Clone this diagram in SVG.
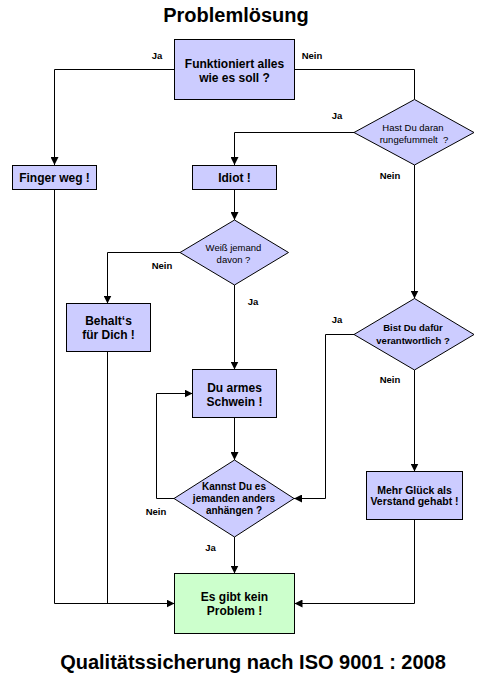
<svg xmlns="http://www.w3.org/2000/svg" width="498" height="677" viewBox="0 0 498 677">
<defs>
<marker id="ah" viewBox="0 0 8 8" refX="8" refY="4" markerWidth="8" markerHeight="8" markerUnits="userSpaceOnUse" orient="auto">
<path d="M0,0 L8,4 L0,8 z" fill="#000"/>
</marker>
</defs>
<style>
.n{fill:#CCCCFF;stroke:#000;stroke-width:1}
.g{fill:#CCFFCC;stroke:#000;stroke-width:1}
.t{font-family:"Liberation Sans",Arial,sans-serif;font-weight:bold;font-size:12px;text-anchor:middle;fill:#000}
.d{font-family:"Liberation Sans",Arial,sans-serif;font-size:9.5px;text-anchor:middle;fill:#000}
.db{font-family:"Liberation Sans",Arial,sans-serif;font-weight:bold;font-size:10px;text-anchor:middle;fill:#000}
.l{font-family:"Liberation Sans",Arial,sans-serif;font-weight:bold;font-size:9.5px;text-anchor:middle;fill:#000}
.h{font-family:"Liberation Sans",Arial,sans-serif;font-weight:bold;font-size:20px;text-anchor:middle;fill:#000}
.c{fill:none;stroke:#000;stroke-width:1}
.a{marker-end:url(#ah)}
</style>
<rect width="498" height="677" fill="#fff"/>
<text class="h" x="236" y="22">Problemlösung</text>
<text class="h" x="253" y="669">Qualitätssicherung nach ISO 9001 : 2008</text>

<g id="connectors">
<path class="c a" d="M174.5,69.5 H54.5 V165"/>
<path class="c" d="M294.5,69.5 H414.5 V99.5"/>
<path class="c a" d="M354,132.5 H234.5 V165"/>
<path class="c a" d="M414.5,165 V298.5"/>
<path class="c a" d="M234.5,189 V220"/>
<path class="c a" d="M180,252.5 H107.5 V303.5"/>
<path class="c a" d="M234.5,285 V369.5"/>
<path class="c a" d="M354,334.5 H325.5 V498.5 H294"/>
<path class="c a" d="M414.5,370 V471.5"/>
<path class="c a" d="M234.5,417.5 V460"/>
<path class="c a" d="M174,498.5 H156.5 V393.5 H192.5"/>
<path class="c a" d="M234.5,537 V573.5"/>
<path class="c a" d="M54.5,189 V603.5 H174.5"/>
<path class="c" d="M107.5,352 V603.5"/>
<path class="c a" d="M414.5,519.5 V603.5 H294.5"/>
<text class="l" x="157" y="58.5">Ja</text>
<text class="l" x="312" y="58.5">Nein</text>
<text class="l" x="337" y="119">Ja</text>
<text class="l" x="390" y="179">Nein</text>
<text class="l" x="162" y="269">Nein</text>
<text class="l" x="253" y="305">Ja</text>
<text class="l" x="337" y="322.5">Ja</text>
<text class="l" x="390" y="382.5">Nein</text>
<text class="l" x="156" y="514.5">Nein</text>
<text class="l" x="210.5" y="550.5">Ja</text>
</g>

<g id="start">
<rect class="n" x="174.5" y="39.5" width="120" height="60"/>
<text class="t" x="234.5" y="67.5">Funktioniert alles</text>
<text class="t" x="234.5" y="81.5">wie es soll ?</text>
</g>
<g id="hast">
<polygon class="n" points="414.5,99.5 474,132.5 414.5,165 354,132.5"/>
<text class="d" x="413" y="130.5">Hast Du daran</text>
<text class="d" x="414" y="143" xml:space="preserve">rungefummelt  ?</text>
</g>
<g id="finger">
<rect class="n" x="12.5" y="165.5" width="84" height="24"/>
<text class="t" x="54.5" y="181.5">Finger weg !</text>
</g>
<g id="idiot">
<rect class="n" x="192.5" y="165.5" width="84" height="24"/>
<text class="t" x="234.5" y="181.5">Idiot !</text>
</g>
<g id="weiss">
<polygon class="n" points="234.5,220 288.5,252.5 234.5,285 180,252.5"/>
<text class="d" x="233.5" y="250.5">Weiß jemand</text>
<text class="d" x="233.5" y="263">davon ?</text>
</g>
<g id="behalt">
<rect class="n" x="66.5" y="303.5" width="84" height="48"/>
<text class="t" x="108.5" y="325">Behalt‘s</text>
<text class="t" x="108.5" y="339">für Dich !</text>
</g>
<g id="bist">
<polygon class="n" points="414.5,298.5 474,334.5 414.5,370 354,334.5"/>
<text class="l" x="413" y="330.5">Bist Du dafür</text>
<text class="l" x="413" y="344">verantwortlich ?</text>
</g>
<g id="armes">
<rect class="n" x="192.5" y="369.5" width="84" height="48"/>
<text class="t" x="234.5" y="391.5">Du armes</text>
<text class="t" x="234.5" y="405.5">Schwein !</text>
</g>
<g id="kannst">
<polygon class="n" points="234.5,460 294,498.5 234.5,537 174,498.5"/>
<text class="db" x="234" y="489.5">Kannst Du es</text>
<text class="db" x="234" y="501.5">jemanden anders</text>
<text class="db" x="234" y="513.5">anhängen ?</text>
</g>
<g id="glueck">
<rect class="n" x="366.5" y="471.5" width="96" height="48"/>
<text class="db" x="414.5" y="493.5" style="font-size:10.5px">Mehr Glück als</text>
<text class="db" x="414.5" y="505" style="font-size:10.5px">Verstand gehabt !</text>
</g>
<g id="end">
<rect class="g" x="174.5" y="573.5" width="120" height="60"/>
<text class="t" x="234.5" y="601">Es gibt kein</text>
<text class="t" x="234.5" y="615">Problem !</text>
</g>
</svg>
